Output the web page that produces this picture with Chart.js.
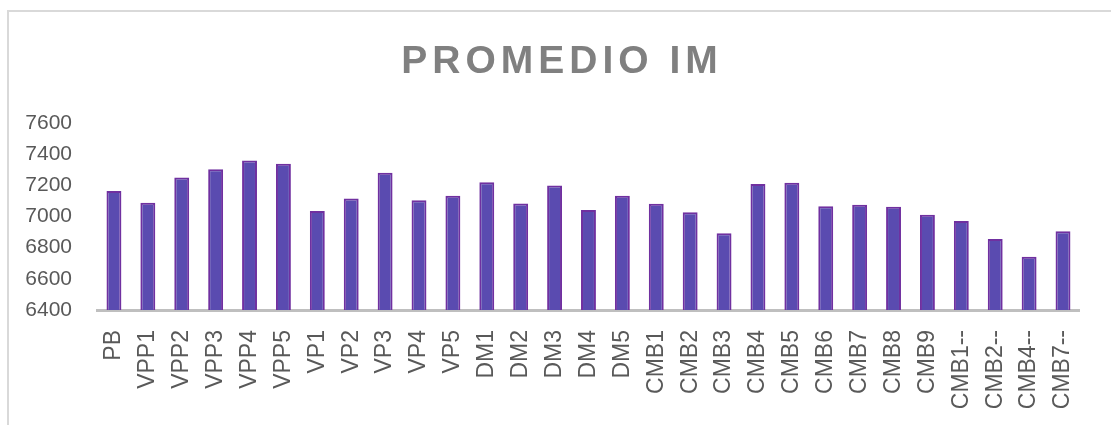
<!DOCTYPE html>
<html>
<head>
<meta charset="utf-8">
<script src="https://cdn.jsdelivr.net/npm/chart.js@4"></script>
<style>
  body { margin: 0; background: #fff; }
  #wrap { position: relative; width: 1111px; height: 425px; overflow: hidden; }
  #frame {
    position: absolute; left: 7px; top: 10px; width: 1200px; height: 500px;
    border-top: 2px solid #d9d9d9; border-left: 2px solid #d9d9d9;
  }
  canvas { position: absolute; left: 0; top: 0; }
</style>
</head>
<body>
<div id="wrap">
  <div id="frame"></div>
  <canvas id="chart" width="1111" height="425"></canvas>
</div>
<script>
const titleText = "PROMEDIO IM";

const categories = [
  "PB", "VPP1", "VPP2", "VPP3", "VPP4", "VPP5", "VP1", "VP2", "VP3", "VP4",
  "VP5", "DM1", "DM2", "DM3", "DM4", "DM5", "CMB1", "CMB2", "CMB3", "CMB4",
  "CMB5", "CMB6", "CMB7", "CMB8", "CMB9", "CMB1--", "CMB2--", "CMB4--", "CMB7--"
];

const promedio = [
  7163, 7089, 7250, 7303, 7359, 7338, 7035, 7116, 7280, 7105,
  7133, 7220, 7084, 7199, 7041, 7133, 7082, 7027, 6892, 7209,
  7216, 7065, 7076, 7063, 7012, 6971, 6856, 6741, 6905
];

const yMin = 6400;
const yMax = 7600;
const yStep = 200;

// title with letter spacing (canvas title plugin has none)
const spacedTitle = {
  id: "spacedTitle",
  afterDraw(chart) {
    const ctx = chart.ctx;
    ctx.save();
    ctx.font = "bold 39px 'Liberation Sans', Arial, sans-serif";
    ctx.letterSpacing = "5px";
    ctx.fillStyle = "#808080";
    ctx.textAlign = "center";
    ctx.textBaseline = "middle";
    ctx.fillText(titleText, 562, 62);
    ctx.restore();
  }
};

const ctx = document.getElementById("chart").getContext("2d");
new Chart(ctx, {
  type: "bar",
  data: {
    labels: categories,
    datasets: [{
      label: titleText,
      data: promedio,
      backgroundColor: "#5a4bb0",
      borderColor: "#7030a0",
      borderWidth: 2,
      borderSkipped: "bottom",
      categoryPercentage: 1,
      barPercentage: 0.44
    }]
  },
  options: {
    responsive: false,
    animation: false,
    layout: { padding: { top: 123, left: 0, right: 23, bottom: 0 } },
    plugins: {
      legend: { display: false },
      title: { display: false },
      tooltip: { enabled: false }
    },
    scales: {
      x: {
        grid: { display: false, drawTicks: false },
        border: { display: true, color: "#bfbfbf", width: 3 },
        ticks: {
          color: "#595959",
          font: { family: "'Liberation Sans', Arial, sans-serif", size: 23 },
          minRotation: 90,
          maxRotation: 90,
          padding: 20,
          autoSkip: false
        },
        afterFit(scale) { scale.height = 115; }
      },
      y: {
        min: yMin,
        max: yMax,
        grid: { display: false, drawTicks: false },
        border: { display: false },
        ticks: {
          stepSize: yStep,
          color: "#595959",
          font: { family: "'Liberation Sans', Arial, sans-serif", size: 21 },
          padding: 25,
          callback: (v) => String(v)
        },
        afterFit(scale) { scale.width = 97; }
      }
    }
  },
  plugins: [spacedTitle]
});
</script>
</body>
</html>
